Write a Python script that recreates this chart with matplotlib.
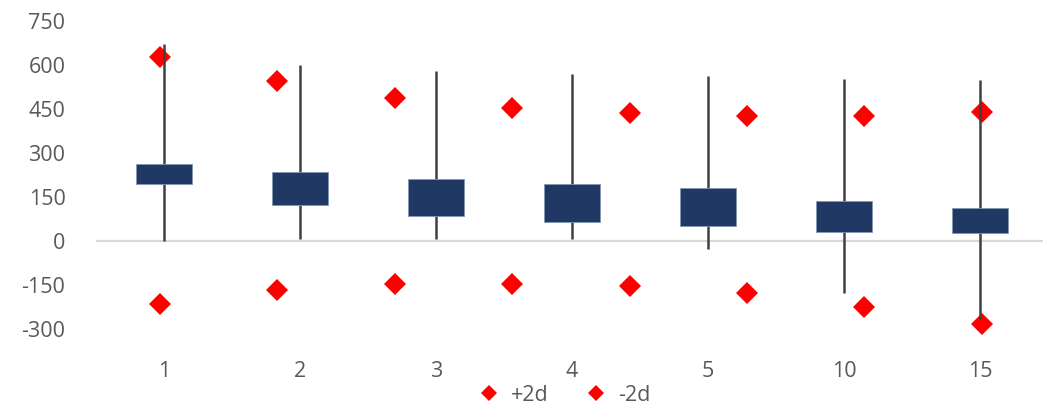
import matplotlib.pyplot as plt

plt.rcParams['font.family'] = ['Open Sans', 'DejaVu Sans']
plt.rcParams['axes.unicode_minus'] = False

categories = ['1', '2', '3', '4', '5', '10', '15']
box_top = [262, 237, 212, 194, 181, 136, 112]
box_bottom = [195, 125, 87, 66, 53, 33, 27]
whisker_high = [673, 600, 580, 569, 562, 552, 550]
whisker_low = [0, 7, 7, 9, -27, -175, -265]

plus_2d = [628, 546, 487, 456, 438, 427, 427, 440]
minus_2d = [-214, -167, -147, -146, -152, -177, -223, -283]

text_col = '#595959'
navy = '#203864'
red = '#ff0000'

fig = plt.figure(figsize=(10.43, 4.05), dpi=100)
ax = fig.add_axes([96 / 1043, 0.1543, 952 / 1043, 0.8002])
ax2 = ax.twiny()
ax.set_zorder(2)
ax2.set_zorder(1)
ax.patch.set_visible(False)

x = list(range(len(categories)))
ax.axhline(0, color='#d9d9d9', lw=1.6, zorder=1)
ax.vlines(x, whisker_low, whisker_high, color='#404040', lw=1.8, zorder=2)
heights = [t - b for t, b in zip(box_top, box_bottom)]
ax.bar(x, heights, bottom=box_bottom, width=0.41, color=navy,
       edgecolor='#8497b0', linewidth=0.6, zorder=3)

ax.set_xlim(-0.5, len(categories) - 0.5)
ax.set_ylim(-345, 760)
ax.set_yticks(range(-300, 751, 150))
ax.set_xticks(x)
ax.set_xticklabels(categories)
ax.tick_params(axis='both', length=0, labelsize=15.5, labelcolor=text_col)
ax.tick_params(axis='x', pad=13)
ax.tick_params(axis='y', pad=22)
for s in ax.spines.values():
    s.set_visible(False)

# scatter series sit on their own category axis (8 points)
xs = list(range(1, len(plus_2d) + 1))
ax2.plot(xs, plus_2d, 'D', color=red, ms=11.5, mew=0, label='+2d', clip_on=False)
ax2.plot(xs, minus_2d, 'D', color=red, ms=11.5, mew=0, label='-2d', clip_on=False)
ax2.set_xlim(0.455, 8.564)
ax2.set_xticks([])
for s in ax2.spines.values():
    s.set_visible(False)

h, l = ax2.get_legend_handles_labels()
leg = ax.legend(h, l, loc='center', bbox_to_anchor=(0.492, -0.162),
                ncol=2, frameon=False, fontsize=15.5, markerscale=0.75,
                handlelength=1.0, handletextpad=0.5, columnspacing=1.7)
for t in leg.get_texts():
    t.set_color(text_col)

fig.savefig('out.png', dpi=100)
